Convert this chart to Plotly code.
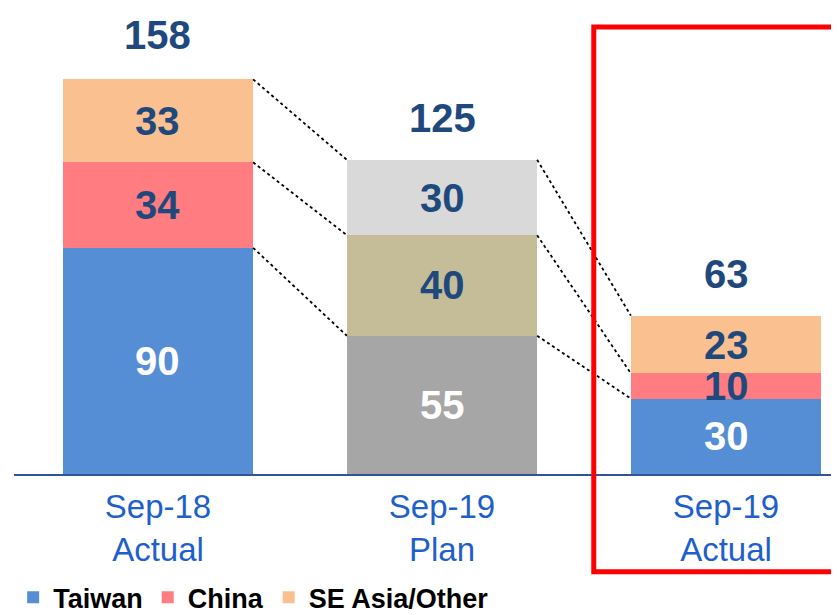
import plotly.graph_objects as go

# data
categories = ["Sep-18<br>Actual", "Sep-19<br>Plan", "Sep-19<br>Actual"]
taiwan = [90, 55, 30]
china = [34, 40, 10]
se_asia = [33, 30, 23]
totals = [158, 125, 63]

# colours (middle bar = plan, shown in neutral tones)
taiwan_colors = ['#558ED5', '#A6A6A6', '#558ED5']
china_colors = ['#FF7C80', '#C4BD97', '#FF7C80']
se_asia_colors = ['#FAC090', '#D9D9D9', '#FAC090']
NAVY = '#1F497D'
CAT_BLUE = '#1F5FCC'
FONT = 'Liberation Sans, Arial, sans-serif'
BAR_W = 0.67

x = list(range(len(categories)))
fig = go.Figure()

series = [
    ('Taiwan', taiwan, taiwan_colors),
    ('China', china, china_colors),
    ('SE Asia/Other', se_asia, se_asia_colors),
]
for name, vals, cols in series:
    fig.add_trace(go.Bar(
        x=x, y=vals, name=name, width=BAR_W,
        marker=dict(color=cols, line=dict(width=0)),
        hoverinfo='skip'
    ))

# segment labels at the middle of each segment
base = [0] * len(x)
for name, vals, cols in series:
    for i, v in enumerate(vals):
        white = (name == 'Taiwan')
        fig.add_annotation(
            x=i, y=base[i] + v / 2, text=str(v), showarrow=False,
            font=dict(family=FONT, size=40, weight='bold',
                      color='white' if white else NAVY)
        )
        base[i] += v

# totals above bars
for i, t in enumerate(totals):
    fig.add_annotation(
        x=i, y=t, text=str(t), showarrow=False, yanchor='bottom', yshift=18,
        font=dict(family=FONT, size=40, weight='bold', color=NAVY)
    )

# dotted connectors between matching stack levels
levels = []
for i in x:
    levels.append([taiwan[i], taiwan[i] + china[i], taiwan[i] + china[i] + se_asia[i]])
for i in range(len(x) - 1):
    for k in range(3):
        fig.add_trace(go.Scatter(
            x=[i + BAR_W / 2, i + 1 - BAR_W / 2], y=[levels[i][k], levels[i + 1][k]],
            mode='lines', line=dict(color='black', width=1.8, dash='dot'),
            showlegend=False, hoverinfo='skip'
        ))

# highlight box around latest actual
fig.add_shape(
    type='rect', xref='paper', yref='paper',
    x0=0.696, x1=1.05, y0=-0.210, y1=0.959,
    line=dict(color='#FF0000', width=5)
)

fig.update_layout(
    barmode='stack',
    width=839, height=615,
    margin=dict(l=6, r=0, t=0, b=149, autoexpand=False),
    plot_bgcolor='white', paper_bgcolor='white',
    showlegend=True,
    legend=dict(
        orientation='h', x=-0.001, xanchor='left', y=-0.213, yanchor='top',
        font=dict(family=FONT, size=27, weight='bold', color='black'),
        itemwidth=30, traceorder='normal', bgcolor='rgba(0,0,0,0)'
    ),
)
fig.update_xaxes(
    tickvals=x, ticktext=categories, range=[-0.507, 2.426],
    tickfont=dict(family=FONT, size=33, color=CAT_BLUE),
    showline=True, linecolor='#2F5597', linewidth=2,
    showgrid=False, zeroline=False, ticks='', ticklabelstandoff=2
)
fig.update_yaxes(range=[0, 185.4], visible=False, showgrid=False)

fig.write_html("out.html")
